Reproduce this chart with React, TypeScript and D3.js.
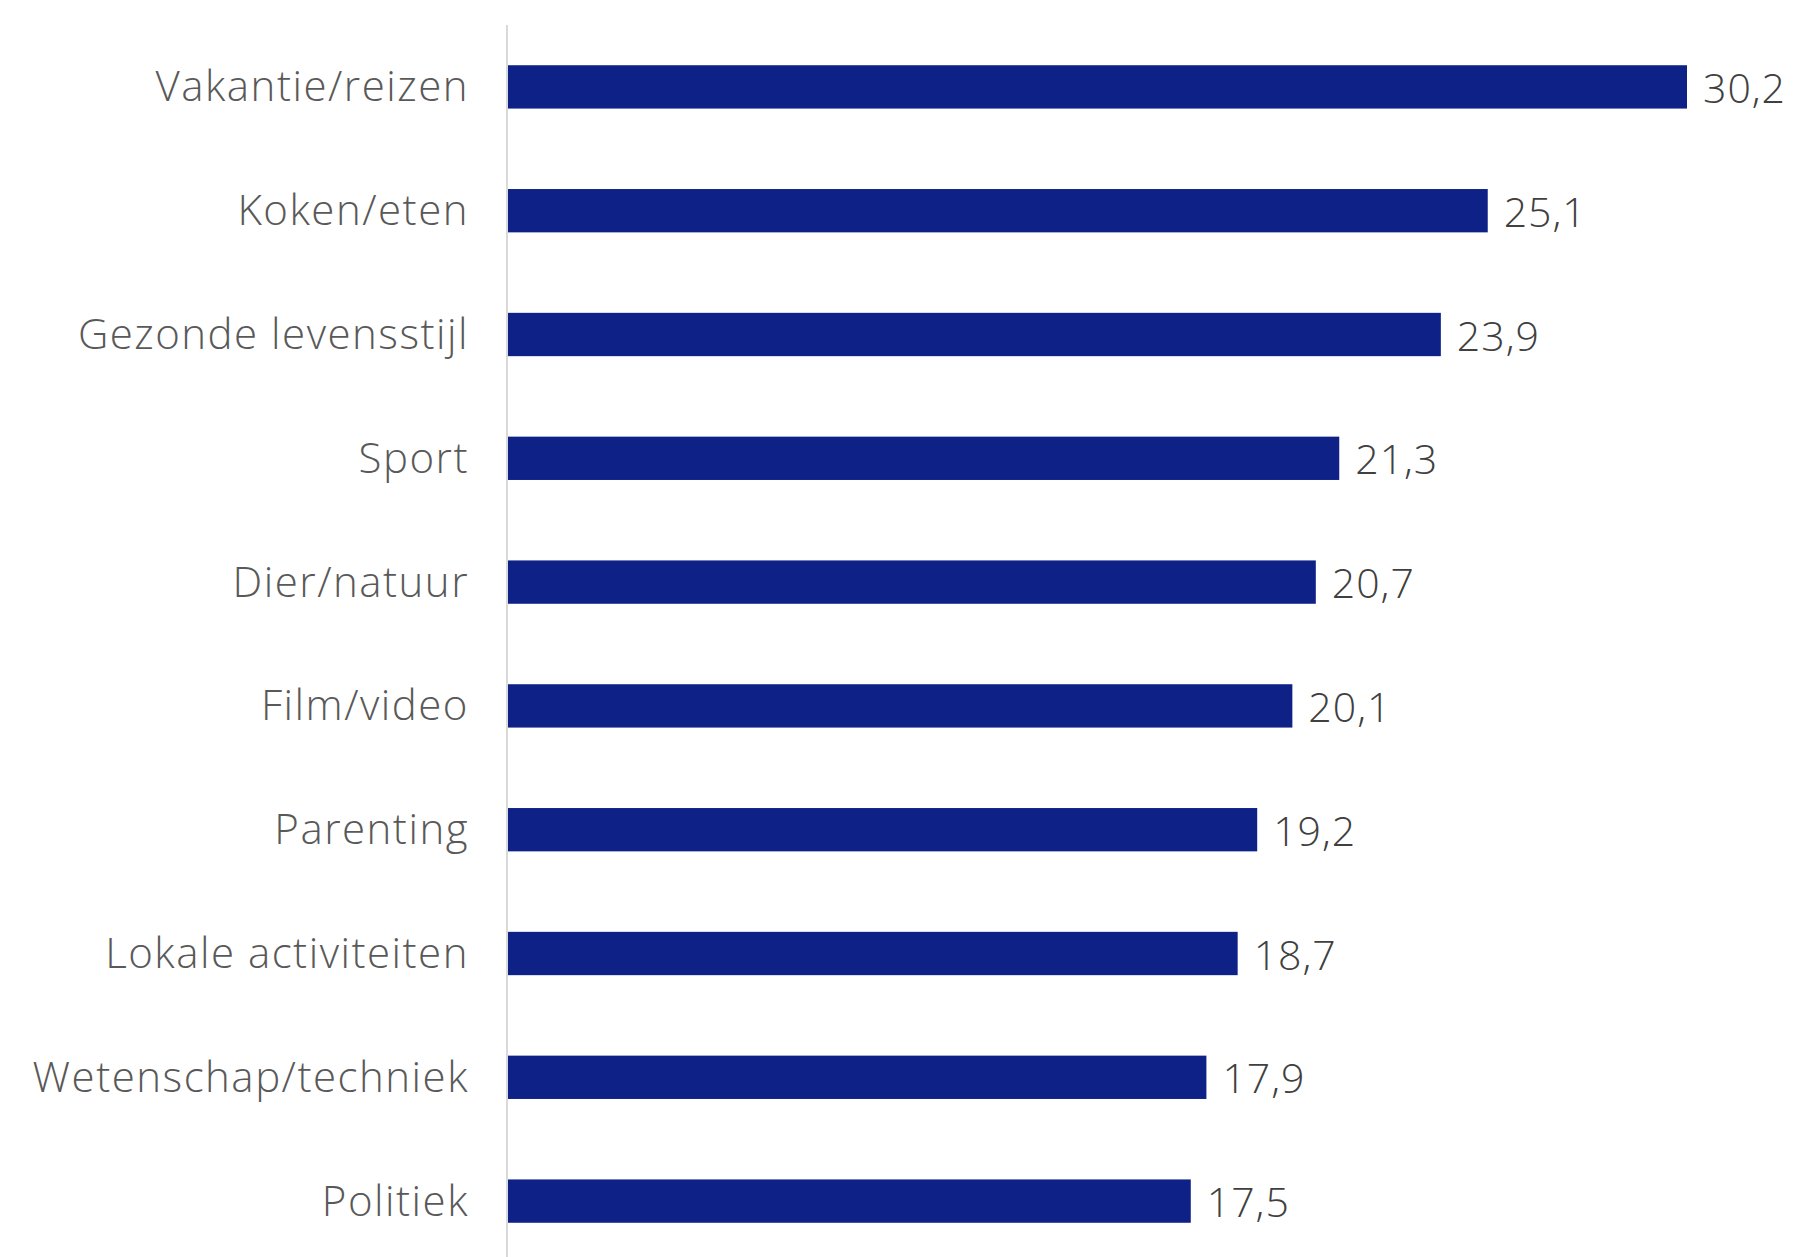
import React from "react";
import * as d3 from "d3";

const categories = [
  "Vakantie/reizen",
  "Koken/eten",
  "Gezonde levensstijl",
  "Sport",
  "Dier/natuur",
  "Film/video",
  "Parenting",
  "Lokale activiteiten",
  "Wetenschap/techniek",
  "Politiek",
];
const values = [30.2, 25.1, 23.9, 21.3, 20.7, 20.1, 19.2, 18.7, 17.9, 17.5];

const W = 1795;
const H = 1257;
const FONT = "'Open Sans', 'Noto Sans', sans-serif";

export default function App() {
  const x = d3.scaleLinear().domain([0, 30.2]).range([507, 1687]);
  const y = d3
    .scaleBand<string>()
    .domain(categories)
    .range([25, 1263])
    .paddingInner(0.65)
    .paddingOuter(0.325);
  const fmt = (v: number) => d3.format(".1f")(v).replace(".", ",");

  return (
    <svg
      width={W}
      height={H}
      style={{ position: "absolute", left: 0, top: 0, background: "#fff" }}
    >
      <line x1={x(0)} x2={x(0)} y1={y.range()[0]} y2={y.range()[1]} stroke="#d9d9d9" strokeWidth={2} />
      {categories.map((c, i) => {
        const yc = (y(c) as number) + y.bandwidth() / 2;
        return (
          <g key={c}>
            <rect
              x={x(0) + 1}
              y={y(c)}
              width={x(values[i]) - x(0) - 1}
              height={y.bandwidth()}
              fill="#0e2187"
            />
            <text
              x={469}
              y={yc - 2}
              textAnchor="end"
              dominantBaseline="central"
              fontFamily={FONT}
              fontWeight={300}
              fontSize={42}
              letterSpacing={1.5}
              fill="#595959"
            >
              {c}
            </text>
            <text
              x={x(values[i]) + 16}
              y={yc}
              dominantBaseline="central"
              fontFamily={FONT}
              fontWeight={300}
              fontSize={41}
              letterSpacing={1}
              fill="#404040"
            >
              {fmt(values[i])}
            </text>
          </g>
        );
      })}
    </svg>
  );
}
